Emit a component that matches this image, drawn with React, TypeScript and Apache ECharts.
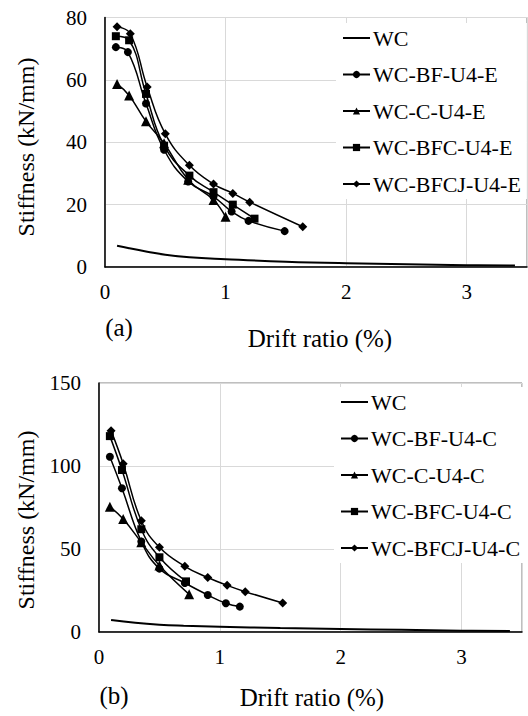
import React, { useEffect, useRef } from "react";
import * as echarts from "echarts";

const xTicks = [0, 1, 2, 3];
const namesA = ["WC", "WC-BF-U4-E", "WC-C-U4-E", "WC-BFC-U4-E", "WC-BFCJ-U4-E"];
const namesB = ["WC", "WC-BF-U4-C", "WC-C-U4-C", "WC-BFC-U4-C", "WC-BFCJ-U4-C"];
const symbols = ["none", "circle", "triangle", "rect", "diamond"];

// (a) drift ratio (%), stiffness (kN/mm)
const wcA = [[0.1, 6.8], [0.2, 6.0], [0.35, 4.9], [0.5, 3.9], [0.7, 3.1], [1.0, 2.5], [1.5, 1.7], [2.0, 1.2], [2.5, 0.9], [3.0, 0.6], [3.4, 0.45]];
const bfA = [[0.09, 70.5], [0.19, 68.9], [0.34, 52.4], [0.49, 37.6], [0.69, 27.4], [0.9, 22.6], [1.05, 17.8], [1.19, 14.8], [1.49, 11.5]];
const cA = [[0.1, 58.7], [0.2, 55.0], [0.34, 46.7], [0.49, 39.7], [0.69, 28.0], [0.9, 21.5], [1.0, 16.1]];
const bfcA = [[0.09, 74.0], [0.2, 72.7], [0.34, 55.5], [0.49, 38.9], [0.7, 29.3], [0.9, 24.0], [1.06, 20.0], [1.24, 15.5]];
const bfcjA = [[0.1, 77.0], [0.21, 74.8], [0.35, 57.7], [0.5, 42.7], [0.7, 32.6], [0.9, 26.6], [1.06, 23.6], [1.2, 20.8], [1.64, 12.9]];

// (b)
const wcB = [[0.1, 7.2], [0.3, 5.5], [0.5, 4.4], [0.7, 3.8], [1.0, 3.2], [1.5, 2.4], [2.0, 1.8], [2.5, 1.3], [3.0, 0.8], [3.4, 0.6]];
const bfB = [[0.09, 105.6], [0.19, 86.6], [0.35, 54.5], [0.5, 38.2], [0.71, 29.5], [0.9, 22.3], [1.05, 17.3], [1.165, 15.3]];
const cB = [[0.09, 75.5], [0.2, 68.0], [0.35, 54.0], [0.5, 40.0], [0.746, 22.7]];
const bfcB = [[0.09, 118.0], [0.19, 97.6], [0.35, 61.9], [0.5, 45.0], [0.72, 30.5]];
const bfcjB = [[0.1, 121.3], [0.2, 101.4], [0.35, 67.0], [0.5, 51.0], [0.71, 39.6], [0.9, 32.8], [1.06, 28.1], [1.21, 24.3], [1.52, 17.5]];

const seriesA = [wcA, bfA, cA, bfcA, bfcjA];
const seriesB = [wcB, bfB, cB, bfcB, bfcjB];

const FONT = "'Liberation Serif', 'DejaVu Serif', serif";

export default function App() {
  const ref = useRef<HTMLDivElement>(null);
  useEffect(() => {
    if (!ref.current) return;
    const chart = echarts.init(ref.current, null, { renderer: "svg" });
    const grids = [
      { left: 105, top: 17.5, width: 422, height: 249.5, show: true, borderColor: "#7f7f7f", borderWidth: 1 },
      { left: 99, top: 383, width: 423, height: 249, show: true, borderColor: "#7f7f7f", borderWidth: 1 },
    ];
    const xAxis = [0, 1].map((i) => ({
      type: "value",
      gridIndex: i,
      min: xTicks[0],
      max: 3.5,
      interval: 1,
      axisLine: { show: true, lineStyle: { color: "#000", width: 1.5 } },
      axisTick: { show: false },
      axisLabel: { showMaxLabel: false, fontFamily: FONT, fontSize: 21, color: "#000", margin: 14 },
      splitLine: { show: true, lineStyle: { color: "#d9d9d9", width: 1 } },
    }));
    const yAxis = [
      { max: 80, interval: 20 },
      { max: 150, interval: 50 },
    ].map((c, i) => ({
      type: "value",
      gridIndex: i,
      min: 0,
      max: c.max,
      interval: c.interval,
      axisLine: { show: true, lineStyle: { color: "#000", width: 1.5 } },
      axisTick: { show: false },
      axisLabel: { fontFamily: FONT, fontSize: 21, color: "#000", margin: 18 },
      splitLine: { show: true, lineStyle: { color: "#d9d9d9", width: 1 } },
    }));
    const mk = (data: number[][], name: string, k: number, gi: number) => ({
      type: "line",
      name,
      xAxisIndex: gi,
      yAxisIndex: gi,
      data,
      smooth: 0.45,
      symbol: symbols[k],
      symbolSize: k === 2 ? 10 : k === 4 ? 9 : 8,
      showSymbol: k !== 0,
      lineStyle: { color: "#000", width: k === 0 ? 2 : 1.5 },
      itemStyle: { color: "#000" },
      z: 3,
    });
    const series = [
      ...seriesA.map((d, k) => mk(d, namesA[k], k, 0)),
      ...seriesB.map((d, k) => mk(d, namesB[k], k, 1)),
    ];
    const legendData = (names: string[]) =>
      names.map((n, k) =>
        k === 0 ? { name: n, itemStyle: { color: "rgba(0,0,0,0)", borderColor: "rgba(0,0,0,0)", opacity: 0 } } : { name: n }
      );
    const legendBase = {
      orient: "vertical",
      itemWidth: 27,
      itemHeight: 9,
      itemGap: 14.5,
      padding: [4, 6],
      backgroundColor: "#fff",
      textStyle: { fontFamily: FONT, fontSize: 22, color: "#000", padding: [0, 0, 0, -2] },
      selectedMode: false,
    };
    const gtext = (text: string, x: number, y: number, rot = 0, size = 25) => ({
      type: "text",
      x,
      y,
      rotation: rot,
      style: { text, fontFamily: FONT, fontSize: size, fill: "#000", align: "center", verticalAlign: "middle" },
    });
    chart.setOption({
      animation: false,
      grid: grids,
      xAxis,
      yAxis,
      series,
      legend: [
        { ...legendBase, data: legendData(namesA), left: 336, top: 23 },
        { ...legendBase, data: legendData(namesB), left: 334, top: 387 },
      ],
      graphic: [
        gtext("Stiffness (kN/mm)", 26, 147, Math.PI / 2, 24),
        gtext("Stiffness (kN/mm)", 26, 520, Math.PI / 2, 24),
        gtext("Drift ratio (%)", 320, 338),
        gtext("Drift ratio (%)", 312, 697),
        gtext("(a)", 119, 327),
        gtext("(b)", 114, 695),
      ],
    });
    return () => chart.dispose();
  }, []);
  return <div ref={ref} style={{ position: "fixed", left: 0, top: 0, width: 528, height: 716, background: "#fff" }} />;
}
